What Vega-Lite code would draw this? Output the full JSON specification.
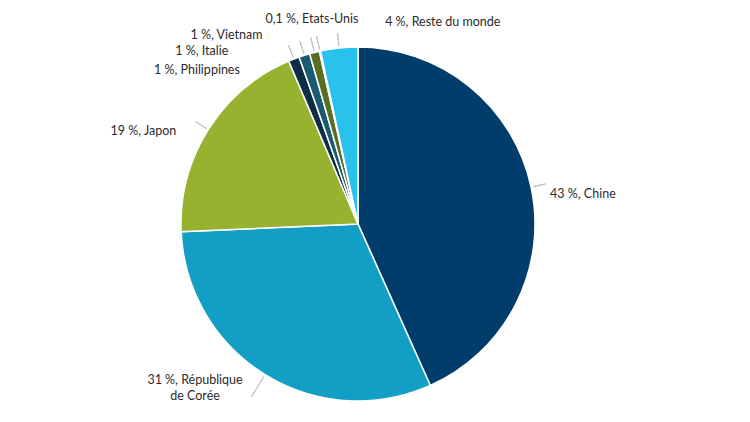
{
  "$schema": "https://vega.github.io/schema/vega-lite/v6.json",
  "width": 716,
  "height": 396,
  "autosize": "none",
  "padding": {"left": 0, "top": 26, "right": 34, "bottom": 0},
  "background": "white",
  "config": {
    "view": {"stroke": null},
    "text": {"font": "Lato", "fontSize": 12.5, "fill": "#2b2b2b"}
  },
  "data": {
    "values": [
      {"pays": "Chine", "part": 43.3, "ordre": 1, "label": "43 %, Chine"},
      {"pays": "République de Corée", "part": 31.0, "ordre": 2, "label": "31 %, République\nde Corée"},
      {"pays": "Japon", "part": 19.3, "ordre": 3, "label": "19 %, Japon"},
      {"pays": "Philippines", "part": 1.0, "ordre": 4, "label": "1 %, Philippines"},
      {"pays": "Italie", "part": 1.0, "ordre": 5, "label": "1 %, Italie"},
      {"pays": "Vietnam", "part": 0.9, "ordre": 6, "label": "1 %, Vietnam"},
      {"pays": "Etats-Unis", "part": 0.1, "ordre": 7, "label": "0,1 %, Etats-Unis"},
      {"pays": "Reste du monde", "part": 3.4, "ordre": 8, "label": "4 %, Reste du monde"}
    ]
  },
  "encoding": {
    "theta": {"field": "part", "type": "quantitative", "stack": true},
    "order": {"field": "ordre", "type": "quantitative"}
  },
  "layer": [
    {
      "mark": {"type": "arc", "outerRadius": 177, "stroke": "white", "strokeWidth": 1.5},
      "encoding": {
        "color": {
          "field": "pays",
          "type": "nominal",
          "scale": {
            "domain": ["Chine", "République de Corée", "Japon", "Philippines", "Italie", "Vietnam", "Etats-Unis", "Reste du monde"],
            "range": ["#003d6b", "#139fc5", "#97b22f", "#0d2c45", "#1b5b72", "#5a6e22", "#8aa83a", "#29c2ea"]
          },
          "legend": null
        }
      }
    },
    {
      "mark": {"type": "arc", "innerRadius": 179, "outerRadius": 192, "padAngle": 3.1416, "fill": null, "stroke": "#bfbfbf", "strokeWidth": 1},
      "encoding": {
        "strokeOpacity": {"condition": {"test": "datum.pays === 'République de Corée'", "value": 0}, "value": 1}
      }
    },
    {
      "mark": {"type": "arc", "innerRadius": 179, "outerRadius": 203, "padAngle": 3.1416, "fill": null, "stroke": "#bfbfbf", "strokeWidth": 1},
      "encoding": {
        "strokeOpacity": {"condition": {"test": "datum.pays === 'République de Corée'", "value": 1}, "value": 0}
      }
    },
    {
      "mark": {"type": "text", "radius": 177, "align": "left", "baseline": "middle", "dx": 19, "dy": 7},
      "encoding": {"text": {"condition": {"test": "datum.pays === 'Chine'", "field": "label"}, "value": ""}}
    },
    {
      "mark": {"type": "text", "radius": 177, "align": "center", "baseline": "top", "dx": -70, "dy": -1, "lineBreak": "\n", "lineHeight": 16},
      "encoding": {"text": {"condition": {"test": "datum.pays === 'République de Corée'", "field": "label"}, "value": ""}}
    },
    {
      "mark": {"type": "text", "radius": 177, "align": "right", "baseline": "middle", "dx": -32, "dy": 1},
      "encoding": {"text": {"condition": {"test": "datum.pays === 'Japon'", "field": "label"}, "value": ""}}
    },
    {
      "mark": {"type": "text", "radius": 177, "align": "right", "baseline": "middle", "dx": -54, "dy": 11},
      "encoding": {"text": {"condition": {"test": "datum.pays === 'Philippines'", "field": "label"}, "value": ""}}
    },
    {
      "mark": {"type": "text", "radius": 177, "align": "right", "baseline": "middle", "dx": -76, "dy": -4},
      "encoding": {"text": {"condition": {"test": "datum.pays === 'Italie'", "field": "label"}, "value": ""}}
    },
    {
      "mark": {"type": "text", "radius": 177, "align": "right", "baseline": "middle", "dx": -52, "dy": -17},
      "encoding": {"text": {"condition": {"test": "datum.pays === 'Vietnam'", "field": "label"}, "value": ""}}
    },
    {
      "mark": {"type": "text", "radius": 177, "align": "center", "baseline": "middle", "dx": -8, "dy": -32},
      "encoding": {"text": {"condition": {"test": "datum.pays === 'Etats-Unis'", "field": "label"}, "value": ""}}
    },
    {
      "mark": {"type": "text", "radius": 177, "align": "left", "baseline": "middle", "dx": 46, "dy": -26},
      "encoding": {"text": {"condition": {"test": "datum.pays === 'Reste du monde'", "field": "label"}, "value": ""}}
    }
  ]
}
